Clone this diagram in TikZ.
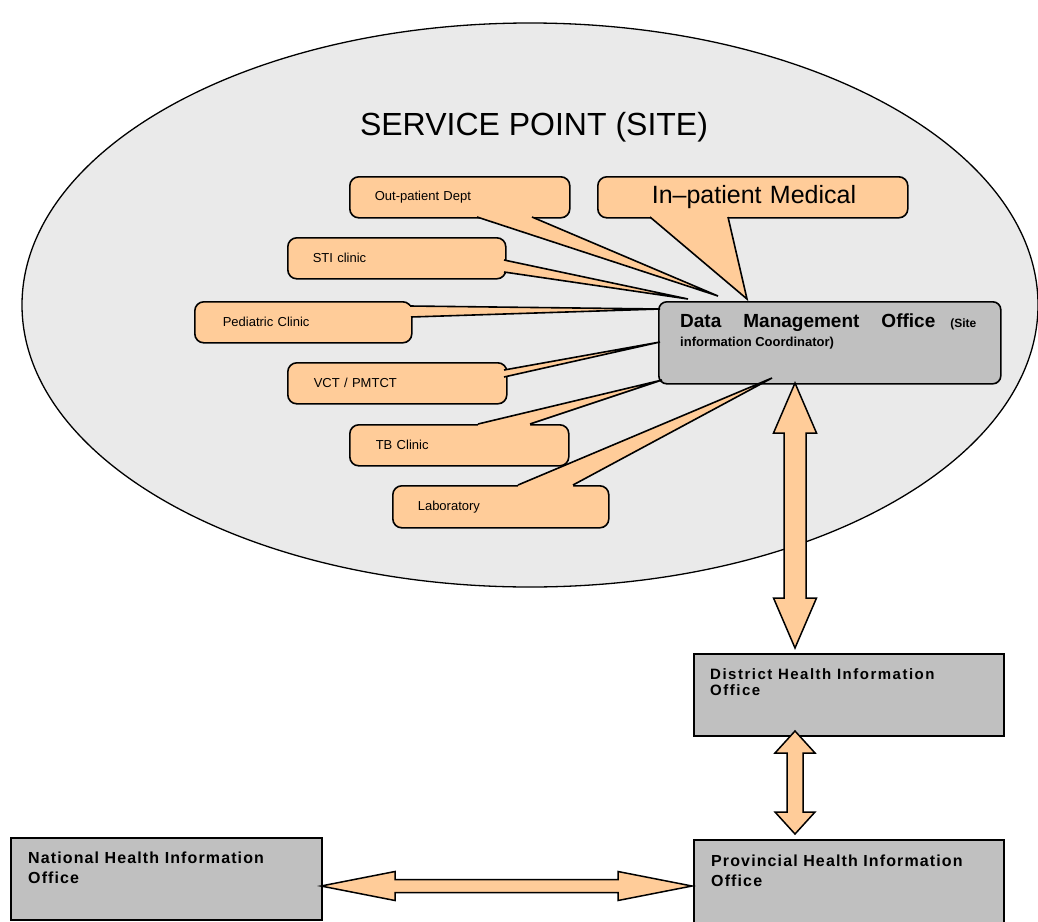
\documentclass[tikz,border=0pt]{standalone}
\usepackage{fontspec}
\setmainfont{Liberation Sans}
\newfontfamily\wideA[LetterSpace=10]{Liberation Sans}
\newfontfamily\wideB[LetterSpace=7]{Liberation Sans}
\usetikzlibrary{shapes.geometric,calc}
\definecolor{peach}{HTML}{FFCC99}
\definecolor{sitegray}{HTML}{EAEAEA}
\definecolor{boxgray}{HTML}{C0C0C0}
\tikzset{
  bubble/.style={fill=peach, draw=black, line width=1.6pt, rounded corners=9pt,
    minimum height=41pt, text width=#1, inner xsep=25pt, inner ysep=0pt, align=left,
    anchor=north west, font=\fontsize{13}{15}\selectfont},
  ptrline/.style={draw=black, line width=1.6pt, line join=miter, miter limit=6},
  graybox/.style={fill=boxgray, draw=black, line width=1.6pt, anchor=north west, inner sep=0pt},
  boxtext/.style={anchor=north west, align=left, inner sep=0pt, font=\wideB\fontsize{16}{20}\bfseries\selectfont},
  dbl/.style={fill=peach, draw=black, line width=1.5pt, line join=miter},
}
\newcommand\calloutptr[4]{%
  \fill[peach] ($#1+#4$) -- #1 -- #3 -- #2 -- ($#2+#4$) -- cycle;
  \draw[ptrline] #1 -- #3 -- #2;
}
\newcommand\vdbl[6]{% x, ytop, ybot, headhalf, shafthalf, headlen
  \draw[dbl] (#1,#2) -- (#1+#4,#2+#6) -- (#1+#5,#2+#6) -- (#1+#5,#3-#6) -- (#1+#4,#3-#6)
    -- (#1,#3) -- (#1-#4,#3-#6) -- (#1-#5,#3-#6) -- (#1-#5,#2+#6) -- (#1-#4,#2+#6) -- cycle;
}
\newcommand\hdbl[6]{% y, xleft, xright, headhalf, shafthalf, headlen
  \draw[dbl] (#2,#1) -- (#2+#6,#1-#4) -- (#2+#6,#1-#5) -- (#3-#6,#1-#5) -- (#3-#6,#1-#4)
    -- (#3,#1) -- (#3-#6,#1+#4) -- (#3-#6,#1+#5) -- (#2+#6,#1+#5) -- (#2+#6,#1+#4) -- cycle;
}
\begin{document}
\begin{tikzpicture}[x=1pt,y=-1pt]
\useasboundingbox[fill=white] (0,0) rectangle (1038,921);

% site ellipse
\node[draw=black, fill=sitegray, ellipse, line width=1.3pt, minimum width=1016pt, minimum height=564pt, inner sep=0pt] (site) at (530,305) {};
\node[anchor=base, font=\fontsize{32}{36}\selectfont, inner sep=0pt] (title) at (534,135) {SERVICE POINT (SITE)};

% data management office
\node[graybox, rounded corners=8pt, minimum width=342pt, minimum height=82pt] (dmo) at (658,301) {};
\node[anchor=base west, inner sep=0pt, font=\fontsize{19}{22}\bfseries\selectfont] (dmo1) at (680,327)
  {Data\hspace{22pt}Management\hspace{22pt}Office\hspace{15pt}{\fontsize{12}{14}\selectfont(Site}};
\node[anchor=base west, inner sep=0pt, font=\fontsize{13}{15}\bfseries\selectfont] (dmo2) at (680,346)
  {information Coordinator)};

% callouts
\node[bubble=170pt] (opd) at (349,176) {Out-patient Dept};
\node[bubble=202pt, inner xsep=54pt, font=\fontsize{25}{28}\selectfont] (inp) at (597,176) {\mbox{In--patient Medical}};
\node[bubble=168pt] (sti) at (287,237) {STI clinic};
\node[bubble=161pt, inner xsep=28pt] (ped) at (194,301) {Pediatric Clinic};
\node[bubble=167pt, inner xsep=26pt] (vct) at (287,362) {VCT / PMTCT};
\node[bubble=167pt, inner xsep=26pt] (tb) at (349,424) {TB Clinic};
\node[bubble=166pt, minimum height=42pt] (lab) at (392,485) {Laboratory};

\coordinate (opdtip) at (718,296);
\coordinate (inptip) at (747,299);
\coordinate (stitip) at (688,299);
\coordinate (pedtip) at (660,309);
\coordinate (vcttip) at (660,342);
\coordinate (tbtip) at (662,380);
\coordinate (labtip) at (772,378);

\calloutptr{(477,217)}{(532,217)}{(opdtip)}{(0,-5)}
\calloutptr{(650,217)}{(728,217)}{(inptip)}{(0,-5)}
\calloutptr{(504,260)}{(504,272)}{(stitip)}{(-5,0)}
\calloutptr{(410,306)}{(411,317)}{(pedtip)}{(-5,0)}
\calloutptr{(504,370)}{(504,377)}{(vcttip)}{(-5,0)}
\calloutptr{(478,424)}{(530,424)}{(tbtip)}{(0,5)}
\calloutptr{(518,485)}{(573,485)}{(labtip)}{(0,5)}

% offices
\node[graybox, minimum width=310pt, minimum height=82pt] (dho) at (693,653) {};
\node[boxtext, font=\wideA\fontsize{15}{16}\bfseries\selectfont] (dhotext) at (710,668) {District Health Information\\Office};
\node[graybox, minimum width=310pt, minimum height=86pt] (pho) at (693,839) {};
\node[boxtext] (photext) at (711,855) {Provincial Health Information\\Office};
\node[graybox, minimum width=311pt, minimum height=82pt] (nho) at (10,837) {};
\node[boxtext] (nhotext) at (28,852) {National Health Information\\Office};

% double arrows
\vdbl{795}{383}{648}{21.5}{11}{50}
\vdbl{795}{731}{834}{20}{8}{22}
\hdbl{886}{321}{692}{14.5}{6.5}{74}
\end{tikzpicture}
\end{document}
